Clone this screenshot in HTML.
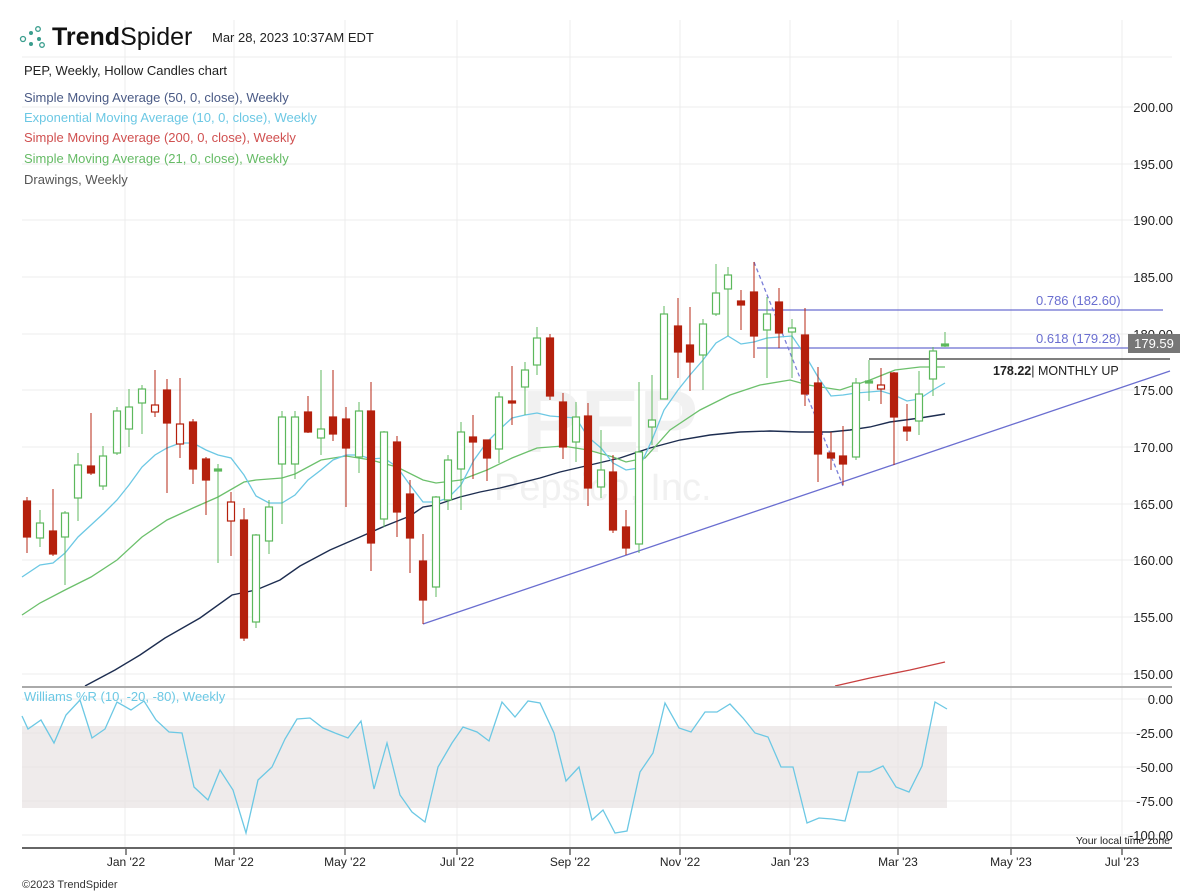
<!DOCTYPE html>
<html><head><meta charset="utf-8"><style>
html,body{margin:0;padding:0;background:#fff;}
svg{display:block;font-family:"Liberation Sans",sans-serif;}
</style></head><body>
<svg width="1200" height="894" viewBox="0 0 1200 894" xmlns="http://www.w3.org/2000/svg">
<!-- grid -->
<g stroke="#ececec" stroke-width="1">
<line x1="125" y1="20" x2="125" y2="848"/><line x1="234" y1="20" x2="234" y2="848"/><line x1="345" y1="20" x2="345" y2="848"/><line x1="457" y1="20" x2="457" y2="848"/><line x1="570" y1="20" x2="570" y2="848"/><line x1="680" y1="20" x2="680" y2="848"/><line x1="790" y1="20" x2="790" y2="848"/><line x1="898" y1="20" x2="898" y2="848"/><line x1="1011" y1="20" x2="1011" y2="848"/><line x1="1122" y1="20" x2="1122" y2="848"/>
<line x1="22" y1="57" x2="1172" y2="57"/><line x1="22" y1="107" x2="1172" y2="107"/><line x1="22" y1="164" x2="1172" y2="164"/><line x1="22" y1="220" x2="1172" y2="220"/><line x1="22" y1="277" x2="1172" y2="277"/><line x1="22" y1="334" x2="1172" y2="334"/><line x1="22" y1="390" x2="1172" y2="390"/><line x1="22" y1="447" x2="1172" y2="447"/><line x1="22" y1="504" x2="1172" y2="504"/><line x1="22" y1="560" x2="1172" y2="560"/><line x1="22" y1="617" x2="1172" y2="617"/><line x1="22" y1="674" x2="1172" y2="674"/>
<line x1="22" y1="699" x2="1172" y2="699"/><line x1="22" y1="733" x2="1172" y2="733"/><line x1="22" y1="767" x2="1172" y2="767"/><line x1="22" y1="801" x2="1172" y2="801"/><line x1="22" y1="835" x2="1172" y2="835"/>
</g>
<!-- header -->
<g fill="#3a9e8e">
<circle cx="23" cy="39" r="2.5" fill="none" stroke="#3a9e8e" stroke-width="1.3"/><circle cx="31" cy="33" r="2" /><circle cx="31" cy="44" r="2"/><circle cx="38" cy="29" r="2.3" fill="none" stroke="#3a9e8e" stroke-width="1.3"/><circle cx="39" cy="39" r="2" /><circle cx="42" cy="45" r="2.3" fill="none" stroke="#3a9e8e" stroke-width="1.3"/>
</g>
<text x="52" y="45" font-size="25" fill="#111"><tspan font-weight="bold">Trend</tspan>Spider</text>
<text x="212" y="42" font-size="13" fill="#222">Mar 28, 2023 10:37AM EDT</text>
<text x="24" y="75" font-size="13" fill="#222">PEP, Weekly, Hollow Candles chart</text>
<text x="24" y="102" font-size="13" fill="#4a5a85">Simple Moving Average (50, 0, close), Weekly</text>
<text x="24" y="122" font-size="13" fill="#6cc8e4">Exponential Moving Average (10, 0, close), Weekly</text>
<text x="24" y="142" font-size="13" fill="#d05050">Simple Moving Average (200, 0, close), Weekly</text>
<text x="24" y="163" font-size="13" fill="#66bb66">Simple Moving Average (21, 0, close), Weekly</text>
<text x="24" y="184" font-size="13" fill="#555">Drawings, Weekly</text>
<!-- watermark -->
<text x="522" y="452" font-size="88" font-weight="bold" fill="#f1f1f1">PEP</text>
<text x="494" y="500" font-size="38" fill="#f1f1f1">Pepsico, Inc.</text>
<!-- price axis labels -->
<g font-size="13" fill="#222" text-anchor="end">
<text x="1173" y="112">200.00</text><text x="1173" y="169">195.00</text><text x="1173" y="225">190.00</text><text x="1173" y="282">185.00</text><text x="1173" y="339">180.00</text><text x="1173" y="395">175.00</text><text x="1173" y="452">170.00</text><text x="1173" y="509">165.00</text><text x="1173" y="565">160.00</text><text x="1173" y="622">155.00</text><text x="1173" y="679">150.00</text>
<text x="1173" y="704">0.00</text><text x="1173" y="738">-25.00</text><text x="1173" y="772">-50.00</text><text x="1173" y="806">-75.00</text><text x="1173" y="840">-100.00</text>
</g>
<!-- drawings -->
<line x1="423" y1="624" x2="1170" y2="371" stroke="#6a6ed0" stroke-width="1.3"/>
<line x1="757" y1="310" x2="1163" y2="310" stroke="#6a6ed0" stroke-width="1.3"/>
<line x1="757" y1="348" x2="1163" y2="348" stroke="#6a6ed0" stroke-width="1.3"/>
<line x1="869" y1="359" x2="1170" y2="359" stroke="#333" stroke-width="1.3"/>
<line x1="754" y1="262" x2="843" y2="486" stroke="#7a7ed8" stroke-width="1.3" stroke-dasharray="4,3"/>
<text x="1036" y="305" font-size="13" fill="#6a6ed0">0.786 (182.60)</text>
<text x="1036" y="343" font-size="13" fill="#6a6ed0">0.618 (179.28)</text>
<text x="993" y="375" font-size="12.5" fill="#222"><tspan font-weight="bold">178.22</tspan>| MONTHLY UP</text>
<!-- MAs -->
<polyline fill="none" stroke="#c84040" stroke-width="1.3" points="835,686 870,678 910,670 945,662"/>
<polyline fill="none" stroke="#1d2d50" stroke-width="1.4" points="85,686 115,670 140,655 165,638 200,618 232,595 256,590 280,580 300,566 330,550 360,537 385,526 410,516 423,507 436,505 460,497 480,492 500,488 520,483 540,478 560,472 590,465 620,458 650,448 680,440 710,435 740,432 770,431 800,432 830,432 850,430 870,427 890,422 920,418 945,414"/>
<polyline fill="none" stroke="#6cc06c" stroke-width="1.3" points="22,615 40,603 65,590 91,577 117,560 142,537 167,520 193,508 218,497 244,482 256,480 282,478 295,474 321,460 346,456 371,460 397,467 423,480 436,483 461,480 487,470 512,458 537,448 563,446 588,450 613,457 626,462 645,458 670,430 700,410 730,395 760,385 790,380 808,385 840,390 870,380 895,370 920,367 945,367"/>
<polyline fill="none" stroke="#6cc8e4" stroke-width="1.3" points="22,577 40,565 53,563 65,553 78,537 91,525 104,513 117,500 129,485 142,467 155,455 167,448 180,443 193,443 206,450 218,455 231,458 244,475 256,496 269,503 282,503 295,495 308,480 321,470 333,460 346,455 359,455 371,459 384,458 397,467 410,485 423,502 436,502 448,498 461,485 474,460 487,442 499,430 512,418 525,415 537,413 550,416 563,417 576,418 588,437 601,448 613,463 626,470 639,468 652,440 664,410 678,390 690,375 703,360 716,343 728,336 741,344 754,342 767,338 779,337 792,336 805,355 818,377 831,396 843,395 856,393 869,392 881,391 894,395 907,401 919,399 933,390 945,383"/>
<!-- candles -->
<g id="c" stroke-width="1.2"></g>
<!-- price tag -->
<rect x="1128" y="334" width="52" height="19" fill="#777"/>
<text x="1154" y="348" font-size="13" fill="#fff" text-anchor="middle">179.59</text>
<!-- lower panel -->
<line x1="22" y1="687" x2="1172" y2="687" stroke="#aaa" stroke-width="2"/>
<rect x="22" y="726" width="925" height="82" fill="#e9e4e4" opacity="0.75"/>
<text x="24" y="701" font-size="13" fill="#6cc8e4">Williams %R (10, -20, -80), Weekly</text>
<polyline fill="none" stroke="#6cc8e4" stroke-width="1.3" points="22,716 28,729 41,720 54,743 66,715 80,700 92,738 105,729 117,702 131,710 144,701 156,720 169,732 182,733 194,787 208,800 220,770 233,790 246,833 258,780 272,767 285,739 297,719 310,718 323,728 335,733 348,738 361,721 374,789 387,743 400,795 412,812 425,822 438,767 452,743 463,727 477,732 489,741 502,702 515,717 528,701 540,703 554,733 566,781 579,767 592,820 603,810 615,833 627,831 640,772 653,753 665,703 679,728 691,732 705,712 717,712 730,704 743,718 755,733 768,737 781,767 793,767 807,823 819,818 832,819 845,821 858,772 870,772 883,766 896,787 909,792 922,766 935,702 947,709"/>
<line x1="22" y1="848" x2="1172" y2="848" stroke="#666" stroke-width="2"/>
<g stroke="#666" stroke-width="1.5"><line x1="126" y1="848" x2="126" y2="855"/><line x1="234" y1="848" x2="234" y2="855"/><line x1="345" y1="848" x2="345" y2="855"/><line x1="457" y1="848" x2="457" y2="855"/><line x1="570" y1="848" x2="570" y2="855"/><line x1="680" y1="848" x2="680" y2="855"/><line x1="790" y1="848" x2="790" y2="855"/><line x1="898" y1="848" x2="898" y2="855"/><line x1="1011" y1="848" x2="1011" y2="855"/><line x1="1122" y1="848" x2="1122" y2="855"/></g>
<g font-size="12" fill="#222" text-anchor="middle">
<text x="126" y="866">Jan '22</text><text x="234" y="866">Mar '22</text><text x="345" y="866">May '22</text><text x="457" y="866">Jul '22</text><text x="570" y="866">Sep '22</text><text x="680" y="866">Nov '22</text><text x="790" y="866">Jan '23</text><text x="898" y="866">Mar '23</text><text x="1011" y="866">May '23</text><text x="1122" y="866">Jul '23</text>
</g>
<text x="1170" y="844" font-size="10.5" fill="#222" text-anchor="end">Your local time zone</text>
<text x="22" y="888" font-size="11" fill="#333">©2023 TrendSpider</text>
</svg>
<script>
var d=[[27,501,537,497,553,'R'],[40,523,538,510,547,'g'],[53,531,554,489,556,'R'],[65,513,537,511,585,'g'],[78,465,498,453,521,'g'],[91,466,473,413,475,'R'],[103,456,486,446,490,'g'],[117,411,453,407,455,'g'],[129,407,429,389,447,'g'],[142,389,403,385,434,'g'],[155,405,412,370,417,'r'],[167,390,423,379,493,'R'],[180,424,444,378,458,'r'],[193,422,469,419,484,'R'],[206,459,480,457,515,'R'],[218,469,471,464,563,'G'],[231,502,521,492,556,'r'],[244,520,638,508,641,'R'],[256,535,622,534,628,'g'],[269,507,541,500,554,'g'],[282,417,464,411,524,'g'],[295,417,464,411,479,'g'],[308,412,432,396,433,'R'],[321,429,438,370,455,'g'],[333,417,434,370,441,'R'],[346,419,448,407,507,'R'],[359,411,457,402,473,'g'],[371,411,543,382,571,'R'],[384,432,519,431,527,'g'],[397,442,512,436,537,'R'],[410,494,538,480,573,'R'],[423,561,600,534,624,'R'],[436,497,587,496,597,'g'],
[448,460,500,455,510,'g'],[461,432,469,422,510,'g'],[473,437,442,415,479,'R'],[487,440,458,440,481,'R'],[499,397,449,392,463,'g'],[512,401,403,366,425,'R'],[525,370,387,362,415,'g'],[537,338,365,327,375,'g'],[550,338,396,334,400,'R'],[563,402,447,393,459,'R'],[576,417,442,402,462,'g'],[588,416,488,403,506,'R'],[601,470,487,430,498,'g'],[613,472,530,455,533,'R'],[626,527,548,510,555,'R'],[639,452,544,382,553,'g'],[652,420,427,375,445,'g'],[664,314,399,306,399,'g'],[678,326,352,298,378,'R'],[690,345,362,307,391,'R'],[703,324,355,319,390,'g'],[716,293,314,264,316,'g'],[728,275,289,267,336,'g'],[741,301,305,290,330,'R'],[754,292,336,262,358,'R'],[767,314,330,297,378,'g'],[779,302,333,288,348,'R'],[792,328,332,319,378,'g'],[805,335,394,308,406,'R'],[818,383,454,367,482,'R'],[831,453,458,432,470,'R'],[843,456,464,426,485,'R'],[856,383,457,378,460,'g'],[869,381,383,360,401,'G'],[881,385,389,368,404,'r'],[894,373,417,372,465,'R'],[907,427,431,404,441,'R'],[919,394,421,371,435,'g'],[933,351,379,347,396,'g'],[945,344,346,332,347,'G']];
var g=document.getElementById('c'),s='',RC='#b5200d',GC='#5cb85c';
d.forEach(function(c){var col=(c[5]=='R'||c[5]=='r')?RC:GC;var fill=(c[5]=='R'||c[5]=='G')?col:'#fff';
s+='<line x1="'+c[0]+'" y1="'+c[3]+'" x2="'+c[0]+'" y2="'+c[4]+'" stroke="'+col+'" opacity="0.8"/>';
var h=Math.max(c[2]-c[1],2);s+='<rect x="'+(c[0]-3.5)+'" y="'+c[1]+'" width="7" height="'+h+'" fill="'+fill+'" stroke="'+col+'"/>';});
g.innerHTML=s;
</script>
</body></html>
